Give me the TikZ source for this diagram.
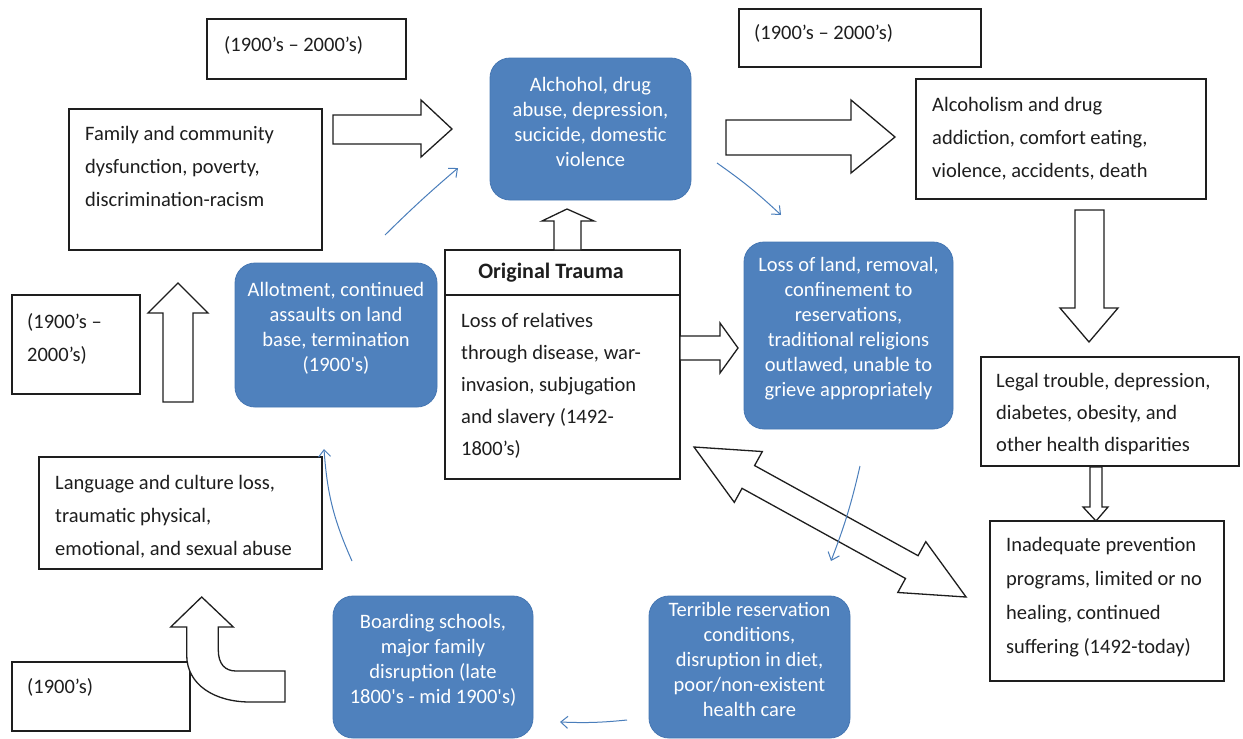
\documentclass[tikz,border=0pt]{standalone}
\usepackage{fontspec}
\setmainfont{Carlito}
\usetikzlibrary{arrows.meta,fit}
\definecolor{bblue}{HTML}{4F81BD}
\definecolor{bedge}{HTML}{4677B3}
\definecolor{tblue}{HTML}{4A7EBB}
\definecolor{ink}{HTML}{1E1E1E}
\begin{document}
\begin{tikzpicture}[x=1pt,y=-1pt,
  wbox/.style={draw=ink, line width=1.3pt, fill=white, inner sep=0pt},
  wtext/.style={anchor=north west, inner sep=0pt, align=left, text=ink, font=\fontsize{20.5}{33}\selectfont},
  bbox/.style={draw=bedge, line width=0.8pt, fill=bblue, rounded corners=20pt, inner sep=0pt, align=center, text=white, font=\fontsize{20.5}{25}\selectfont},
  blockarrow/.style={draw=ink, line width=1.3pt, fill=white, line join=miter},
  thinarrow/.style={draw=tblue, line width=1pt, -{Straight Barb[length=7pt,width=12pt]}}
]
\fill[white] (0,0) rectangle (1243,739);
\useasboundingbox (0,0) rectangle (1243,739);

% ---------- white boxes ----------
\node[wbox, fit={(207,19) (406,79)}] (t1) {};
\node[wtext] (t1t) at (224,36) {(1900’s – 2000’s)};

\node[wbox, fit={(69,109) (322,250)}] (fam) {};
\node[wtext] (famt) at (85,126) {Family and community\\dysfunction, poverty,\\discrimination-racism};

\node[wbox, fit={(739,9) (981,67)}] (t2) {};
\node[wtext] (t2t) at (754,24) {(1900’s – 2000’s)};

\node[wbox, fit={(916,79) (1206,199)}] (alc) {};
\node[wtext] (alct) at (932,97) {Alcoholism and drug\\addiction, comfort eating,\\violence, accidents, death};

\node[wbox, fit={(981,357) (1239,466)}] (legal) {};
\node[wtext, font=\fontsize{20.5}{32}\selectfont] (legalt) at (996,373) {Legal trouble, depression,\\diabetes, obesity, and\\other health disparities};

\node[wbox, fit={(990,521) (1224,681)}] (inad) {};
\node[wtext, font=\fontsize{20.5}{34}\selectfont] (inadt) at (1006,537) {Inadequate prevention\\programs, limited or no\\healing, continued\\suffering (1492-today)};

\node[wbox, fit={(12,295) (140,394)}] (t3) {};
\node[wtext] (t3t) at (27,313) {(1900’s –\\2000’s)};

\node[wbox, fit={(39,457) (322,569)}] (lang) {};
\node[wtext] (langt) at (55,475) {Language and culture loss,\\traumatic physical,\\emotional, and sexual abuse};

\node[wbox, fit={(12,662) (190,731)}] (t4) {};
\node[wtext] (t4t) at (27,678) {(1900’s)};

\node[wbox, fit={(445,250) (680,479)}] (ot) {};
\draw[ink, line width=1.3pt] (ot.west |- 0,295) -- (ot.east |- 0,295);
\node[inner sep=0pt, text=ink, font=\fontsize{22}{25}\bfseries] (othead) at (551,273) {Original Trauma};
\node[wtext, font=\fontsize{20.5}{32}\selectfont] (ott) at (461,313) {Loss of relatives\\through disease, war-\\invasion, subjugation\\and slavery (1492-\\1800’s)};

% ---------- blue boxes ----------
\node[bbox, fit={(490,58) (691,200)}] (alch) {Alchohol, drug\\abuse, depression,\\sucicide, domestic\\violence};
\node[bbox, fit={(744,242) (953,429)}] (land) {Loss of land, removal,\\confinement to\\reservations,\\traditional religions\\outlawed, unable to\\grieve appropriately};
\node[bbox, fit={(235,263) (437,407)}] (allot) {Allotment, continued\\assaults on land\\base, termination\\(1900\textquotesingle s)};
\node[bbox, fit={(333,596) (533,738)}] (board) {Boarding schools,\\major family\\disruption (late\\1800\textquotesingle s - mid 1900\textquotesingle s)};
\node[bbox, fit={(649,596) (850,738)}] (terr) {Terrible reservation\\conditions,\\disruption in diet,\\poor/non-existent\\health care};

% ---------- block arrows ----------
% Family -> Alchohol
\draw[blockarrow] (333,115) -- (421,115) -- (421,100) -- (452,129) -- (421,157) -- (421,144) -- (333,144) -- cycle;
% Alchohol -> Alcoholism
\draw[blockarrow] (726,120) -- (851,120) -- (851,100) -- (895,137) -- (851,173) -- (851,155) -- (726,155) -- cycle;
% Original Trauma -> Alchohol (up)
\draw[blockarrow] (554,250) -- (554,221) -- (542,221) -- (567,209) -- (594,221) -- (581,221) -- (581,250) -- cycle;
% Original Trauma -> Loss of land
\draw[blockarrow] (680,336) -- (720,336) -- (720,323) -- (738,348) -- (720,373) -- (720,360) -- (680,360) -- cycle;
% Alcoholism -> Legal (down)
\draw[blockarrow] (1075,210) -- (1104,210) -- (1104,308) -- (1118,308) -- (1089,342) -- (1060,308) -- (1075,308) -- cycle;
% Legal -> Inadequate (down, small)
\draw[blockarrow] (1090,467) -- (1102,467) -- (1102,507) -- (1108,507) -- (1096,521) -- (1083,507) -- (1090,507) -- cycle;
% left up arrow
\draw[blockarrow] (163,402) -- (163,313) -- (148,313) -- (178,283) -- (208,313) -- (193,313) -- (193,402) -- cycle;
% bent up arrow
\draw[blockarrow] (186.7,627) -- (186.7,655) .. controls (186.7,685) and (215,702) .. (250,702) -- (285,702) -- (285,671) -- (236,671) .. controls (225,671) and (218.3,664) .. (218.3,650) -- (218.3,627) -- (233.3,627) -- (201.7,597) -- (170.7,627) -- cycle;
% double arrow
\begin{scope}[shift={(694,447)}, x={(0.876pt,-0.483pt)}, y={(-0.483pt,-0.876pt)}]
\draw[blockarrow] (0,0) -- (62,29) -- (62,13) -- (248.6,13) -- (248.6,29) -- (310.6,0) -- (248.6,-29) -- (248.6,-13) -- (62,-13) -- (62,-29) -- cycle;
\end{scope}

% ---------- thin arrows ----------
\coordinate (a1s) at (385,235); \coordinate (a1e) at (458,168);
\coordinate (a2s) at (717,163); \coordinate (a2e) at (781,215);
\coordinate (a3s) at (860,466); \coordinate (a3e) at (831,561);
\coordinate (a4s) at (627,720); \coordinate (a4e) at (560,722);
\coordinate (a5s) at (352,561); \coordinate (a5e) at (324,449);
\draw[thinarrow] (a1s) to[bend left=2] (a1e);
\draw[thinarrow] (a2s) to[bend left=4] (a2e);
\draw[thinarrow] (a3s) to[bend left=4] (a3e);
\draw[thinarrow] (a4s) to[bend left=4] (a4e);
\draw[thinarrow] (a5s) to[bend left=10] (a5e);
\end{tikzpicture}
\end{document}
